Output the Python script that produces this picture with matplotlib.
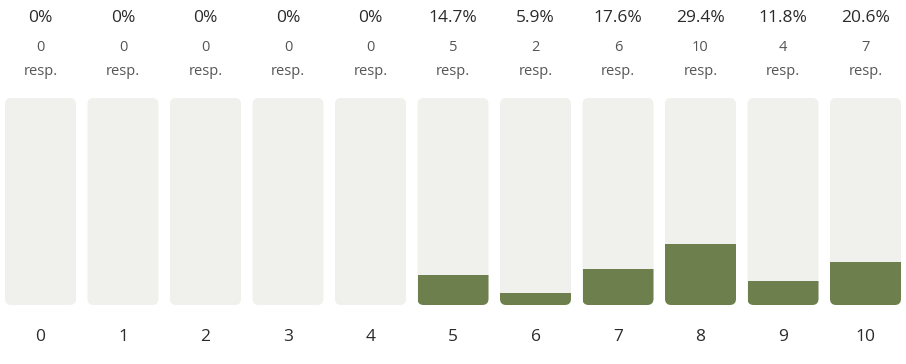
import matplotlib
matplotlib.use("Agg")
from matplotlib import pyplot as plt
from matplotlib.patches import FancyBboxPatch

plt.rcParams['font.family'] = ['Open Sans', 'DejaVu Sans']

scores = ['0', '1', '2', '3', '4', '5', '6', '7', '8', '9', '10']
counts = [0, 0, 0, 0, 0, 5, 2, 6, 10, 4, 7]
percents = [0, 0, 0, 0, 0, 14.7, 5.9, 17.6, 29.4, 11.8, 20.6]
pct_labels = ['0%', '0%', '0%', '0%', '0%', '14.7%', '5.9%', '17.6%', '29.4%', '11.8%', '20.6%']

bg_color = '#f0f0ec'
bar_color = '#6e7f4e'
text_dark = '#2b2b2b'
text_gray = '#555555'

fig = plt.figure(figsize=(9.06, 3.64), dpi=100)
ax = fig.add_axes([0, 0, 1, 1])
ax.set_xlim(-40.5 / 82.5, (906 - 40.5) / 82.5)
ax.set_ylim((305 - 364) / 2.07, 305 / 2.07)
ax.axis('off')

width = 71 / 82.5
aspect = 82.5 / 2.07
xs = list(range(len(scores)))

bars = ax.bar(xs, percents, width=width, color=bar_color, zorder=2)
for x, bar in zip(xs, bars):
    bg = FancyBboxPatch((x - width / 2, 0), width, 100,
                        boxstyle='round,pad=0,rounding_size=0.075',
                        mutation_aspect=aspect, facecolor=bg_color,
                        edgecolor='none', zorder=1)
    ax.add_patch(bg)
    bar.set_clip_path(bg)

for x, lab, c, s in zip(xs, pct_labels, counts, scores):
    ax.text(x, 138.5, lab, ha='center', va='center', fontsize=12.5, color=text_dark)
    ax.text(x, 124.5, str(c), ha='center', va='center', fontsize=10.5, color=text_gray)
    ax.text(x, 113, 'resp.', ha='center', va='center', fontsize=10.5, color=text_gray)
    ax.text(x, -15.5, s, ha='center', va='center', fontsize=12.5, color=text_dark)

fig.savefig('out.png', dpi=100, facecolor='white')
